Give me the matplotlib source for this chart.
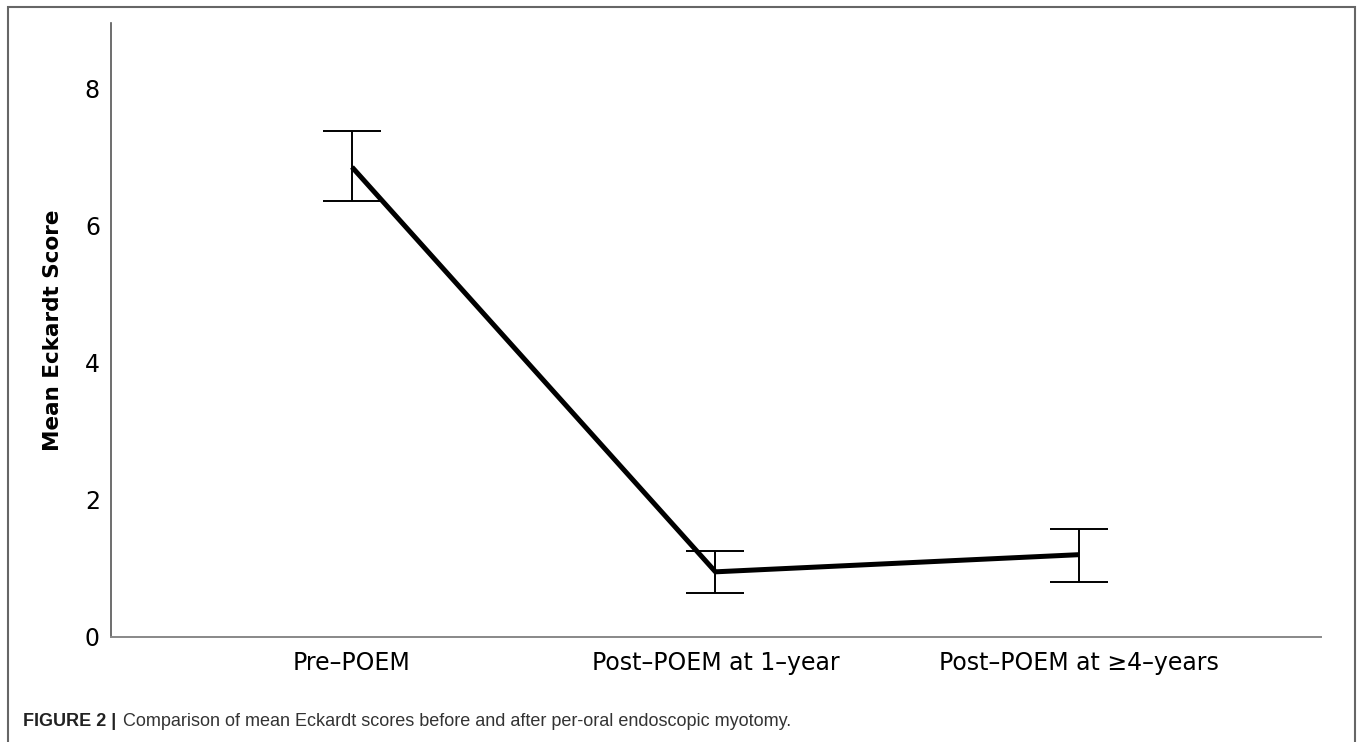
import numpy as np
import matplotlib.pyplot as plt
from matplotlib.patches import Rectangle

# data
groups = ['Pre\u2013POEM', 'Post\u2013POEM at 1\u2013year', 'Post\u2013POEM at \u22654\u2013years']
mean_score = [6.85, 0.95, 1.20]
ci_low = [6.36, 0.64, 0.80]
ci_high = [7.38, 1.25, 1.57]
y_ticks = [0, 2, 4, 6, 8]

x = np.arange(len(groups))
mean_arr = np.array(mean_score)
yerr = [mean_arr - np.array(ci_low), np.array(ci_high) - mean_arr]

fig = plt.figure(figsize=(13.6, 7.42), dpi=100)
ax = fig.add_axes([111 / 1360, 1 - 637 / 742, (1321 - 111) / 1360, (637 - 23) / 742])

ax.plot(x, mean_arr, color='black', linewidth=3.6, solid_capstyle='butt', zorder=3)
ax.errorbar(x, mean_arr, yerr=yerr, fmt='none', ecolor='black', elinewidth=1.4,
            capsize=21, capthick=1.4, zorder=2)

ax.set_xlim(-0.663, 2.666)
ax.set_ylim(0, 8.95)
ax.set_xticks(x)
ax.set_xticklabels(groups, fontsize=17)
ax.set_yticks(y_ticks)
ax.set_yticklabels([str(v) for v in y_ticks], fontsize=17)
ax.tick_params(length=0)
ax.tick_params(axis='y', pad=8)
ax.tick_params(axis='x', pad=10)
ax.set_ylabel('Mean Eckardt Score', fontsize=15.5, fontweight='bold')
ax.yaxis.set_label_coords(-0.040, 0.5)

for side in ['top', 'right']:
    ax.spines[side].set_visible(False)
ax.spines['left'].set_color('#555555')
ax.spines['bottom'].set_color('#888888')
ax.spines['left'].set_linewidth(1.2)
ax.spines['bottom'].set_linewidth(1.4)

# outer frame of the figure panel
fig.patches.append(Rectangle((8 / 1360, -0.05), (1355 - 8) / 1360, 1.05 - 7 / 742,
                             transform=fig.transFigure, fill=False,
                             edgecolor='#666666', linewidth=1.5))

# caption
fig.text(23 / 1360, 1 - 721 / 742, 'FIGURE 2 |', fontsize=13, fontweight='bold',
         family='Liberation Sans', va='center', ha='left', color='#222222')
fig.text(123 / 1360, 1 - 721 / 742,
         'Comparison of mean Eckardt scores before and after per-oral endoscopic myotomy.',
         fontsize=13, family='Liberation Sans', va='center', ha='left', color='#333333')

fig.savefig('out.png', dpi=100)
